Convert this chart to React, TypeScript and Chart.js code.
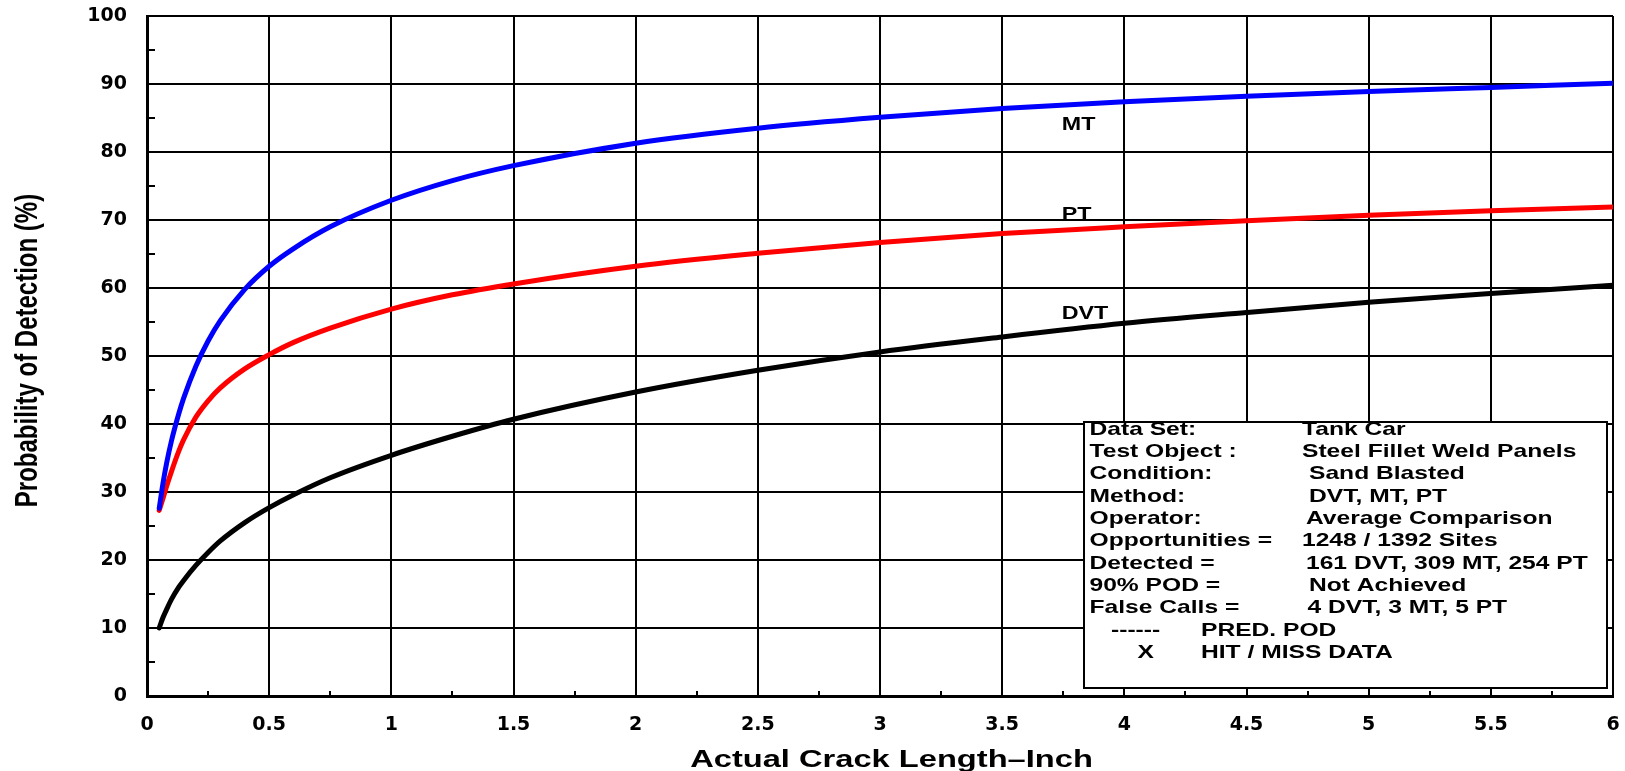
import React, { useEffect, useRef } from 'react';
import { Chart, registerables } from 'chart.js';

Chart.register(...registerables);

// ---- data ----
const crackLength = [0.05, 0.065, 0.08, 0.1, 0.13, 0.15, 0.2, 0.25, 0.3, 0.4, 0.5, 0.6, 0.75, 1, 1.25, 1.5, 2, 2.5, 3, 3.5, 4, 4.5, 5, 5.5, 6];
const podMT = [27.6, 31.2, 34.2, 37.5, 41.5, 43.8, 48.5, 52.2, 55.2, 59.8, 63.2, 65.8, 69.0, 72.9, 75.8, 78.0, 81.3, 83.5, 85.1, 86.4, 87.4, 88.2, 88.9, 89.5, 90.1];
const podPT = [27.3, 29.0, 30.8, 33.0, 36.0, 37.7, 41.0, 43.4, 45.3, 48.1, 50.2, 52.0, 54.1, 56.9, 59.0, 60.6, 63.2, 65.1, 66.7, 68.0, 69.0, 69.9, 70.7, 71.35, 71.9];
const podDVT = [10.0, 11.5, 12.7, 14.2, 16.0, 17.0, 19.2, 21.1, 22.8, 25.5, 27.7, 29.6, 32.1, 35.4, 38.2, 40.7, 44.7, 47.9, 50.6, 52.8, 54.8, 56.4, 57.9, 59.2, 60.4];

const seriesNames = ['MT', 'PT', 'DVT'];
const seriesColors = ['#0000ff', '#ff0000', '#000000'];

const xTicks = [0, 0.5, 1, 1.5, 2, 2.5, 3, 3.5, 4, 4.5, 5, 5.5, 6];
const xTickLabels = ['0', '0.5', '1', '1.5', '2', '2.5', '3', '3.5', '4', '4.5', '5', '5.5', '6'];
const yTicks = [0, 10, 20, 30, 40, 50, 60, 70, 80, 90, 100];
const yTickLabels = ['0', '10', '20', '30', '40', '50', '60', '70', '80', '90', '100'];
const xMinorTicks = [0.25, 0.75, 1.25, 1.75, 2.25, 2.75, 3.25, 3.75, 4.25, 4.75, 5.25, 5.75];
const yMinorTicks = [5, 15, 25, 35, 45, 55, 65, 75, 85, 95];

const xTitle = 'Actual Crack Length\u2013Inch';
const yTitle = 'Probability of Detection (%)';

const infoLabels = ['Data Set:', 'Test Object :', 'Condition:', 'Method:', 'Operator:', 'Opportunities =', 'Detected =', '90% POD =', 'False Calls ='];
const infoValues = ['Tank Car', 'Steel Fillet Weld Panels', 'Sand Blasted', 'DVT, MT, PT', 'Average Comparison', '1248 / 1392 Sites', '161 DVT, 309 MT, 254 PT', 'Not Achieved', '4 DVT, 3 MT, 5 PT'];
const keySymbols = ['------', 'X'];
const keyTexts = ['PRED. POD', 'HIT / MISS DATA'];

const FONT = '"Liberation Sans", Arial, sans-serif';

function stretchedText(ctx: CanvasRenderingContext2D, text: string, x: number, y: number, sx: number, align: CanvasTextAlign = 'left') {
  ctx.save();
  ctx.translate(x, y);
  ctx.scale(sx, 1);
  ctx.textAlign = align;
  ctx.textBaseline = 'alphabetic';
  ctx.fillText(text, 0, 0);
  ctx.restore();
}

const decorPlugin = {
  id: 'decor',
  afterDatasetsDraw(chart: any) {
    const ctx: CanvasRenderingContext2D = chart.ctx;
    const xs = chart.scales.x;
    const ys = chart.scales.y;
    const area = chart.chartArea;

    // minor ticks
    ctx.save();
    ctx.strokeStyle = '#000';
    ctx.lineWidth = 2;
    ctx.beginPath();
    xMinorTicks.forEach((v) => {
      const px = Math.round(xs.getPixelForValue(v));
      ctx.moveTo(px, area.bottom);
      ctx.lineTo(px, area.bottom - 5);
    });
    yMinorTicks.forEach((v) => {
      const py = Math.round(ys.getPixelForValue(v));
      ctx.moveTo(area.left, py);
      ctx.lineTo(area.left + 8, py);
    });
    ctx.stroke();
    ctx.restore();

    // curve labels
    const labelAnchors = [
      { x: 3.744, y: 83.3 },
      { x: 3.744, y: 70.0 },
      { x: 3.744, y: 55.4 },
    ];
    ctx.save();
    ctx.fillStyle = '#000';
    ctx.font = `bold 17.5px ${FONT}`;
    seriesNames.forEach((name, i) => {
      stretchedText(ctx, name, xs.getPixelForValue(labelAnchors[i].x), ys.getPixelForValue(labelAnchors[i].y), 1.33);
    });
    ctx.restore();

    // info box
    const bx = 1084, by = 422, bw = 523, bh = 266;
    ctx.save();
    ctx.fillStyle = '#fff';
    ctx.fillRect(bx, by, bw, bh);
    ctx.strokeStyle = '#000';
    ctx.lineWidth = 2;
    ctx.strokeRect(bx, by, bw, bh);
    ctx.fillStyle = '#000';
    ctx.font = `bold 18.5px ${FONT}`;
    const sx = 1.33;
    const rowStep = 22.3;
    const firstBase = 434.8;
    const valueX = [1302, 1302, 1309, 1309, 1306, 1302, 1306, 1309, 1307.5];
    infoLabels.forEach((lab, i) => {
      const yb = firstBase + i * rowStep;
      stretchedText(ctx, lab, 1089.5, yb, sx);
      stretchedText(ctx, infoValues[i], valueX[i], yb, sx);
    });
    const symX = [1111, 1137.5];
    keySymbols.forEach((s, j) => {
      const yb = firstBase + (infoLabels.length + j) * rowStep;
      stretchedText(ctx, s, symX[j], yb, sx);
      stretchedText(ctx, keyTexts[j], 1201, yb, sx);
    });
    ctx.restore();

    // axis titles
    ctx.save();
    ctx.fillStyle = '#000';
    ctx.font = `bold 24px ${FONT}`;
    stretchedText(ctx, xTitle, 891.5, 767, 1.36, 'center');
    ctx.translate(37, 350.5);
    ctx.rotate(-Math.PI / 2);
    ctx.scale(1, 1.34);
    ctx.textAlign = 'center';
    ctx.textBaseline = 'alphabetic';
    ctx.fillText(yTitle, 0, 0);
    ctx.restore();
  },
};

export default function App() {
  const canvasRef = useRef<HTMLCanvasElement>(null);

  useEffect(() => {
    const canvas = canvasRef.current;
    if (!canvas) return;
    const seriesValues = [podMT, podPT, podDVT];
    const chart = new Chart(canvas, {
      type: 'line',
      data: {
        datasets: seriesNames.map((name, i) => ({
          label: name,
          data: crackLength.map((x, k) => ({ x, y: seriesValues[i][k] })),
          borderColor: seriesColors[i],
          backgroundColor: seriesColors[i],
          borderWidth: 5,
          pointRadius: 0,
          fill: false,
          tension: 0.4,
          cubicInterpolationMode: 'monotone',
          borderCapStyle: 'round',
          borderJoinStyle: 'round',
        })),
      },
      options: {
        responsive: false,
        maintainAspectRatio: false,
        animation: false,
        devicePixelRatio: 1,
        layout: { padding: { top: 16, right: 12, left: 0, bottom: 0 } },
        plugins: {
          legend: { display: false },
          title: { display: false },
          tooltip: { enabled: false },
        },
        scales: {
          x: {
            type: 'linear',
            min: 0,
            max: 6,
            afterBuildTicks: (scale: any) => {
              scale.ticks = xTicks.map((v) => ({ value: v }));
            },
            afterFit: (scale: any) => {
              scale.height = 75;
              scale.paddingLeft = 0;
              scale.paddingRight = 0;
            },
            ticks: {
              autoSkip: false,
              maxRotation: 0,
              padding: 18,
              color: '#000',
              font: { family: '"DejaVu Sans", sans-serif', weight: 'bold', size: 19 },
              callback: (value: any) => xTickLabels[xTicks.indexOf(Number(value))] ?? '',
            },
            grid: { color: '#000', lineWidth: 2, drawTicks: false },
            border: { display: true, color: '#000', width: 3 },
            title: { display: false },
          },
          y: {
            type: 'linear',
            min: 0,
            max: 100,
            afterBuildTicks: (scale: any) => {
              scale.ticks = yTicks.map((v) => ({ value: v }));
            },
            afterFit: (scale: any) => {
              scale.width = 147;
              scale.paddingTop = 0;
              scale.paddingBottom = 0;
            },
            ticks: {
              autoSkip: false,
              padding: 20,
              color: '#000',
              font: { family: '"DejaVu Sans", sans-serif', weight: 'bold', size: 19 },
              callback: (value: any) => yTickLabels[yTicks.indexOf(Number(value))] ?? '',
            },
            grid: { color: '#000', lineWidth: 2, drawTicks: false },
            border: { display: true, color: '#000', width: 3 },
            title: { display: false },
          },
        },
      },
      plugins: [decorPlugin],
    } as any);
    return () => chart.destroy();
  }, []);

  return (
    <div style={{ position: 'absolute', left: 0, top: 0, width: 1625, height: 771, background: '#fff' }}>
      <canvas ref={canvasRef} width={1625} height={771} style={{ display: 'block', width: 1625, height: 771 }} />
    </div>
  );
}
